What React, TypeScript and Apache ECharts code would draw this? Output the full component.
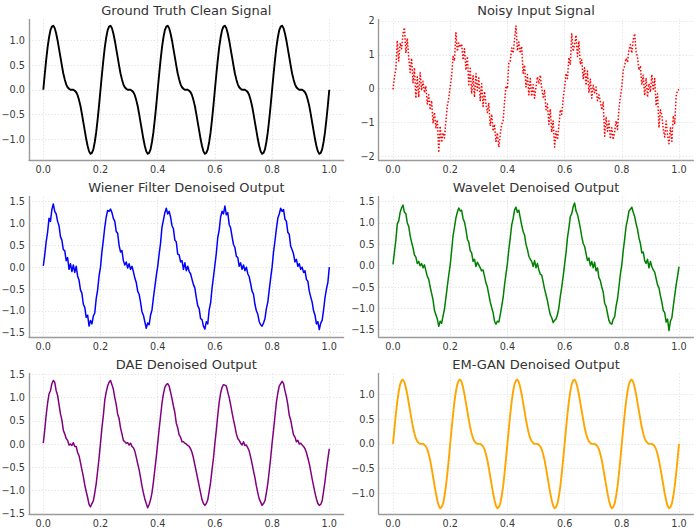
import React, { useEffect, useRef } from "react";
import * as echarts from "echarts";

const FONT = "'DejaVu Sans', 'Liberation Sans', sans-serif";

// sampling grid of the signals: t = 0 .. 1, 201 samples
const sampleCount = 201;
const sampleStep = 1 / (sampleCount - 1);

const panelTitles = [
  "Ground Truth Clean Signal",
  "Noisy Input Signal",
  "Wiener Filter Denoised Output",
  "Wavelet Denoised Output",
  "DAE Denoised Output",
  "EM-GAN Denoised Output",
];

const panelColors = ["#000000", "#ff0000", "#0000ff", "#008000", "#800080", "#ffa500"];

const groundTruth = [
  0.00, 0.31, 0.60, 0.86, 1.06, 1.21, 1.28, 1.30, 1.25, 1.14,
  1.00, 0.83, 0.66, 0.49, 0.33, 0.21, 0.11, 0.05, 0.02, 0.00,
  0.00, 0.00, -0.02, -0.05, -0.11, -0.21, -0.33, -0.49, -0.66, -0.83,
  -1.00, -1.14, -1.25, -1.30, -1.28, -1.21, -1.06, -0.86, -0.60, -0.31,
  0.00, 0.31, 0.60, 0.86, 1.06, 1.21, 1.28, 1.30, 1.25, 1.14,
  1.00, 0.83, 0.66, 0.49, 0.33, 0.21, 0.11, 0.05, 0.02, 0.00,
  0.00, 0.00, -0.02, -0.05, -0.11, -0.21, -0.33, -0.49, -0.66, -0.83,
  -1.00, -1.14, -1.25, -1.30, -1.28, -1.21, -1.06, -0.86, -0.60, -0.31,
  0.00, 0.31, 0.60, 0.86, 1.06, 1.21, 1.28, 1.30, 1.25, 1.14,
  1.00, 0.83, 0.66, 0.49, 0.33, 0.21, 0.11, 0.05, 0.02, 0.00,
  0.00, 0.00, -0.02, -0.05, -0.11, -0.21, -0.33, -0.49, -0.66, -0.83,
  -1.00, -1.14, -1.25, -1.30, -1.28, -1.21, -1.06, -0.86, -0.60, -0.31,
  0.00, 0.31, 0.60, 0.86, 1.06, 1.21, 1.28, 1.30, 1.25, 1.14,
  1.00, 0.83, 0.66, 0.49, 0.33, 0.21, 0.11, 0.05, 0.02, 0.00,
  0.00, 0.00, -0.02, -0.05, -0.11, -0.21, -0.33, -0.49, -0.66, -0.83,
  -1.00, -1.14, -1.25, -1.30, -1.28, -1.21, -1.06, -0.86, -0.60, -0.31,
  0.00, 0.31, 0.60, 0.86, 1.06, 1.21, 1.28, 1.30, 1.25, 1.14,
  1.00, 0.83, 0.66, 0.49, 0.33, 0.21, 0.11, 0.05, 0.02, 0.00,
  0.00, 0.00, -0.02, -0.05, -0.11, -0.21, -0.33, -0.49, -0.66, -0.83,
  -1.00, -1.14, -1.25, -1.30, -1.28, -1.21, -1.06, -0.86, -0.60, -0.31,
  0.00,
];

const noisyInput = [
  -0.02, 0.35, 0.58, 1.42, 0.82, 1.35, 1.18, 1.62, 1.80, 1.05,
  1.48, 0.92, 0.48, 0.90, 0.18, 0.62, -0.28, 0.35, -0.25, 0.48,
  -0.05, 0.22, -0.12, 0.08, -0.45, -0.18, -0.62, -0.35, -1.02, -0.70,
  -1.15, -0.92, -1.88, -1.10, -1.58, -1.30, -1.45, -0.95, -0.50, -0.28,
  0.05, 0.38, 0.95, 0.82, 1.65, 1.10, 1.35, 1.22, 1.32, 0.85,
  1.18, 0.55, 0.95, 0.12, 0.60, -0.15, 0.38, -0.25, 0.45, -0.05,
  0.32, -0.35, 0.15, -0.52, -0.08, -0.45, -0.70, -0.42, -1.10, -0.75,
  -1.25, -1.05, -1.55, -1.30, -1.72, -1.35, -1.05, -0.95, -0.40, 0.08,
  0.00, 0.78, 0.82, 1.20, 1.05, 1.45, 1.85, 1.12, 1.38, 1.05,
  1.25, 0.45, 0.70, 0.05, 0.42, -0.18, 0.30, -0.22, 0.12, -0.28,
  0.05, 0.35, 0.15, 0.40, 0.02, -0.25, -0.05, -0.62, -0.45, -1.05,
  -0.60, -1.28, -0.95, -1.72, -1.25, -1.50, -1.10, -0.62, -0.75, -0.30,
  0.05, 0.45, 0.30, 0.92, 0.70, 1.62, 1.10, 1.30, 1.58, 0.95,
  1.40, 0.72, 0.85, 0.30, 0.62, 0.10, 0.52, -0.10, 0.28, -0.28,
  0.10, -0.12, 0.05, -0.35, -0.18, -0.38, -0.62, -0.40, -1.40, -0.85,
  -1.25, -0.95, -1.48, -1.15, -1.50, -1.28, -0.95, -1.20, -0.60, -0.25,
  0.05, 0.55, 0.68, 0.90, 0.80, 1.15, 1.30, 1.05, 1.45, 1.62,
  1.10, 0.92, 0.55, 0.65, 0.12, 0.40, -0.20, 0.32, -0.25, 0.15,
  -0.10, 0.42, -0.05, 0.30, -0.50, -0.15, -1.15, -0.62, -0.78, -1.20,
  -1.42, -0.95, -1.38, -1.62, -1.15, -1.55, -0.80, -1.05, -0.22, -0.05,
  -0.02,
];

const wienerOutput = [
  0.03, 0.28, 0.58, 0.80, 1.12, 1.05, 1.32, 1.45, 1.28, 1.22,
  1.05, 0.95, 0.70, 0.62, 0.40, 0.38, 0.15, 0.22, -0.05, 0.08,
  -0.10, 0.05, -0.12, 0.02, -0.20, -0.30, -0.52, -0.60, -0.85, -0.92,
  -1.15, -1.10, -1.35, -1.22, -1.30, -1.12, -1.05, -0.72, -0.52, -0.20,
  0.00, 0.35, 0.62, 0.92, 1.15, 1.30, 1.28, 1.33, 1.25, 1.12,
  1.05, 0.82, 0.78, 0.50, 0.35, 0.38, 0.15, 0.05, 0.12, -0.02,
  0.08, -0.05, 0.02, -0.10, -0.25, -0.35, -0.55, -0.62, -0.80, -1.02,
  -1.10, -1.25, -1.40, -1.28, -1.32, -1.10, -0.98, -0.70, -0.45, -0.20,
  0.02, 0.30, 0.55, 0.92, 1.08, 1.25, 1.35, 1.22, 1.28, 1.15,
  0.95, 0.88, 0.62, 0.58, 0.30, 0.28, 0.12, 0.15, -0.05, 0.10,
  -0.08, 0.02, -0.10, -0.15, -0.28, -0.40, -0.48, -0.70, -0.88, -0.95,
  -1.18, -1.20, -1.35, -1.42, -1.25, -1.30, -0.98, -0.82, -0.48, -0.22,
  0.05, 0.32, 0.68, 0.85, 1.15, 1.28, 1.22, 1.40, 1.20, 1.25,
  0.98, 0.90, 0.70, 0.52, 0.45, 0.25, 0.22, 0.02, 0.10, -0.05,
  0.05, -0.08, 0.00, -0.15, -0.22, -0.38, -0.55, -0.62, -0.85, -1.00,
  -1.08, -1.25, -1.32, -1.35, -1.28, -1.18, -0.95, -0.80, -0.52, -0.25,
  0.00, 0.35, 0.60, 0.88, 1.12, 1.22, 1.35, 1.28, 1.32, 1.10,
  1.05, 0.80, 0.75, 0.48, 0.40, 0.30, 0.12, 0.18, 0.02, 0.08,
  -0.05, 0.00, -0.12, -0.08, -0.28, -0.32, -0.55, -0.68, -0.80, -1.00,
  -1.10, -1.30, -1.25, -1.43, -1.28, -1.22, -0.98, -0.70, -0.50, -0.35,
  0.00,
];

const waveletOutput = [
  0.03, 0.32, 0.60, 0.98, 1.05, 1.25, 1.35, 1.42, 1.25, 1.22,
  1.00, 0.92, 0.70, 0.55, 0.42, 0.25, 0.20, 0.05, 0.10, 0.00,
  0.05, -0.05, 0.02, -0.12, -0.25, -0.32, -0.50, -0.65, -0.80, -1.05,
  -1.15, -1.25, -1.42, -1.30, -1.35, -1.18, -1.02, -0.75, -0.48, -0.22,
  0.02, 0.35, 0.70, 0.90, 1.12, 1.25, 1.35, 1.28, 1.30, 1.10,
  1.02, 0.85, 0.62, 0.55, 0.35, 0.30, 0.10, 0.15, -0.02, 0.08,
  0.02, -0.05, -0.12, -0.10, -0.25, -0.40, -0.50, -0.68, -0.85, -0.98,
  -1.10, -1.30, -1.37, -1.30, -1.32, -1.15, -0.95, -0.75, -0.45, -0.20,
  0.05, 0.38, 0.65, 0.95, 1.10, 1.30, 1.37, 1.25, 1.30, 1.12,
  0.95, 0.80, 0.72, 0.50, 0.38, 0.22, 0.15, 0.10, -0.02, 0.12,
  -0.05, 0.05, -0.10, -0.20, -0.22, -0.38, -0.55, -0.68, -0.82, -1.00,
  -1.15, -1.22, -1.33, -1.28, -1.25, -1.15, -0.98, -0.72, -0.50, -0.25,
  0.03, 0.30, 0.65, 0.88, 1.15, 1.22, 1.38, 1.47, 1.28, 1.20,
  1.05, 0.88, 0.68, 0.52, 0.45, 0.28, 0.12, 0.18, 0.00, 0.10,
  -0.05, 0.08, -0.12, -0.05, -0.28, -0.35, -0.50, -0.62, -0.88, -0.95,
  -1.12, -1.28, -1.35, -1.37, -1.25, -1.20, -0.95, -0.78, -0.50, -0.20,
  0.02, 0.35, 0.62, 0.92, 1.08, 1.28, 1.32, 1.37, 1.25, 1.15,
  0.98, 0.85, 0.65, 0.52, 0.30, 0.32, 0.12, 0.05, 0.15, -0.05,
  0.10, -0.02, -0.10, -0.15, -0.30, -0.45, -0.52, -0.70, -0.85, -1.05,
  -1.10, -1.32, -1.25, -1.52, -1.30, -1.22, -0.95, -0.70, -0.45, -0.25,
  -0.02,
];

const daeOutput = [
  0.02, 0.30, 0.62, 0.88, 1.08, 1.15, 1.30, 1.37, 1.33, 1.15,
  1.05, 0.85, 0.65, 0.52, 0.30, 0.22, 0.12, 0.08, -0.02, 0.00,
  -0.03, 0.03, -0.05, -0.05, -0.18, -0.25, -0.40, -0.55, -0.70, -0.88,
  -1.02, -1.15, -1.30, -1.35, -1.28, -1.22, -1.05, -0.85, -0.58, -0.30,
  0.02, 0.35, 0.62, 0.95, 1.12, 1.25, 1.33, 1.37, 1.28, 1.18,
  1.00, 0.85, 0.65, 0.55, 0.35, 0.22, 0.08, 0.05, 0.02, 0.03,
  -0.02, 0.02, -0.05, -0.08, -0.15, -0.28, -0.42, -0.55, -0.72, -0.90,
  -1.05, -1.18, -1.28, -1.37, -1.30, -1.20, -1.05, -0.82, -0.55, -0.28,
  0.02, 0.32, 0.60, 0.88, 1.08, 1.22, 1.28, 1.30, 1.25, 1.12,
  0.98, 0.82, 0.68, 0.45, 0.35, 0.20, 0.15, 0.05, 0.05, 0.02,
  0.00, -0.03, -0.05, -0.10, -0.18, -0.30, -0.45, -0.60, -0.75, -0.90,
  -1.05, -1.20, -1.28, -1.32, -1.28, -1.20, -1.02, -0.82, -0.55, -0.30,
  0.02, 0.30, 0.62, 0.90, 1.10, 1.22, 1.28, 1.27, 1.25, 1.12,
  1.00, 0.85, 0.68, 0.52, 0.38, 0.22, 0.12, 0.08, 0.02, -0.02,
  0.05, -0.03, -0.02, -0.08, -0.15, -0.28, -0.42, -0.58, -0.72, -0.90,
  -1.05, -1.18, -1.25, -1.32, -1.28, -1.22, -1.05, -0.85, -0.58, -0.30,
  0.02, 0.30, 0.60, 0.90, 1.10, 1.25, 1.30, 1.35, 1.30, 1.15,
  1.02, 0.85, 0.62, 0.52, 0.35, 0.20, 0.15, 0.05, 0.08, 0.00,
  0.02, -0.02, -0.05, -0.10, -0.18, -0.30, -0.42, -0.58, -0.75, -0.90,
  -1.05, -1.18, -1.28, -1.32, -1.30, -1.22, -1.02, -0.80, -0.55, -0.32,
  -0.10,
];

const emGanOutput = [
  0.00, 0.31, 0.60, 0.86, 1.06, 1.21, 1.28, 1.30, 1.25, 1.14,
  1.00, 0.83, 0.66, 0.49, 0.33, 0.21, 0.11, 0.05, 0.02, 0.00,
  0.00, 0.00, -0.02, -0.05, -0.11, -0.21, -0.33, -0.49, -0.66, -0.83,
  -1.00, -1.14, -1.25, -1.30, -1.28, -1.21, -1.06, -0.86, -0.60, -0.31,
  0.00, 0.31, 0.60, 0.86, 1.06, 1.21, 1.28, 1.30, 1.25, 1.14,
  1.00, 0.83, 0.66, 0.49, 0.33, 0.21, 0.11, 0.05, 0.02, 0.00,
  0.00, 0.00, -0.02, -0.05, -0.11, -0.21, -0.33, -0.49, -0.66, -0.83,
  -1.00, -1.14, -1.25, -1.30, -1.28, -1.21, -1.06, -0.86, -0.60, -0.31,
  0.00, 0.31, 0.60, 0.86, 1.06, 1.21, 1.28, 1.30, 1.25, 1.14,
  1.00, 0.83, 0.66, 0.49, 0.33, 0.21, 0.11, 0.05, 0.02, 0.00,
  0.00, 0.00, -0.02, -0.05, -0.11, -0.21, -0.33, -0.49, -0.66, -0.83,
  -1.00, -1.14, -1.25, -1.30, -1.28, -1.21, -1.06, -0.86, -0.60, -0.31,
  0.00, 0.31, 0.60, 0.86, 1.06, 1.21, 1.28, 1.30, 1.25, 1.14,
  1.00, 0.83, 0.66, 0.49, 0.33, 0.21, 0.11, 0.05, 0.02, 0.00,
  0.00, 0.00, -0.02, -0.05, -0.11, -0.21, -0.33, -0.49, -0.66, -0.83,
  -1.00, -1.14, -1.25, -1.30, -1.28, -1.21, -1.06, -0.86, -0.60, -0.31,
  0.00, 0.31, 0.60, 0.86, 1.06, 1.21, 1.28, 1.30, 1.25, 1.14,
  1.00, 0.83, 0.66, 0.49, 0.33, 0.21, 0.11, 0.05, 0.02, 0.00,
  0.00, 0.00, -0.02, -0.05, -0.11, -0.21, -0.33, -0.49, -0.66, -0.83,
  -1.00, -1.14, -1.25, -1.30, -1.28, -1.21, -1.06, -0.86, -0.60, -0.31,
  0.00,
];

const panelSeries = [groundTruth, noisyInput, wienerOutput, waveletOutput, daeOutput, emGanOutput];

// axis ranges (matplotlib-style auto margins)
const xRange = [-0.05, 1.05];
const yRanges = [
  [-1.425, 1.425],
  [-2.1, 2.04],
  [-1.6, 1.62],
  [-1.67, 1.62],
  [-1.505, 1.52],
  [-1.418, 1.424],
];
const yLabelDecimals = [1, 0, 1, 1, 1, 1];

// layout
const colLefts = [29, 378.7];
const rowTops = [19.5, 196.5, 373.5];
const gridWidth = 314.6;
const gridHeight = 140.5;

const fmt = (v: number, d: number) => {
  const s = (Math.abs(v) < 1e-9 ? 0 : v).toFixed(d);
  return s.replace("-", "\u2212");
};

export default function App() {
  const ref = useRef<HTMLDivElement>(null);

  useEffect(() => {
    document.body.style.margin = "0";
    if (!ref.current) return;
    const chart = echarts.init(ref.current, null, { renderer: "svg" });

    const grids: any[] = [];
    const xAxes: any[] = [];
    const yAxes: any[] = [];
    const series: any[] = [];
    const graphics: any[] = [];

    panelSeries.forEach((vals, i) => {
      const col = i % 2;
      const row = Math.floor(i / 2);
      const left = colLefts[col];
      const top = rowTops[row];
      grids.push({ left, top, width: gridWidth, height: gridHeight, containLabel: false, outerBoundsMode: "none" });

      const splitLine = {
        show: true,
        showMinLine: false,
        showMaxLine: false,
        lineStyle: { color: "#dcdcdc", width: 0.8, type: [1.2, 2] },
      };
      const axisLine = { show: true, onZero: false, lineStyle: { color: "#9a9a9a", width: 1.4 } };
      const axisLabel = (d: number) => ({
        show: true,
        showMinLabel: false,
        showMaxLabel: false,
        color: "#3a3a3a",
        fontSize: 9.7,
        fontFamily: FONT,
        margin: 4,
        formatter: (v: number) => fmt(v, d),
      });

      xAxes.push({
        type: "value",
        gridIndex: i,
        min: xRange[0],
        max: xRange[1],
        axisLine,
        axisTick: { show: false },
        axisLabel: axisLabel(1),
        splitLine,
      });
      yAxes.push({
        type: "value",
        gridIndex: i,
        min: yRanges[i][0],
        max: yRanges[i][1],
        axisLine,
        axisTick: { show: false },
        axisLabel: axisLabel(yLabelDecimals[i]),
        splitLine,
      });

      const isNoisy = i === 1;
      series.push({
        type: "line",
        name: panelTitles[i],
        xAxisIndex: i,
        yAxisIndex: i,
        data: vals.map((v, k) => [k * sampleStep, v]),
        showSymbol: false,
        symbol: "none",
        silent: true,
        clip: true,
        lineStyle: {
          color: panelColors[i],
          width: i === 0 || i === 5 ? 1.9 : 1.5,
          type: isNoisy ? [1.5, 1.8] : "solid",
          cap: "butt",
          join: "round",
        },
      });

      graphics.push({
        type: "text",
        x: left + gridWidth / 2,
        y: top - 9.5,
        style: {
          text: panelTitles[i],
          fontSize: 13,
          fontFamily: FONT,
          fill: "#333333",
          textAlign: "center",
          textVerticalAlign: "middle",
          verticalAlign: "middle",
        },
      });
    });

    chart.setOption({
      animation: false,
      backgroundColor: "#ffffff",
      grid: grids,
      xAxis: xAxes,
      yAxis: yAxes,
      series,
      graphic: graphics,
    });

    return () => chart.dispose();
  }, []);

  return (
    <div
      ref={ref}
      style={{ position: "absolute", left: 0, top: 0, width: 699, height: 531, background: "#fff" }}
    />
  );
}
